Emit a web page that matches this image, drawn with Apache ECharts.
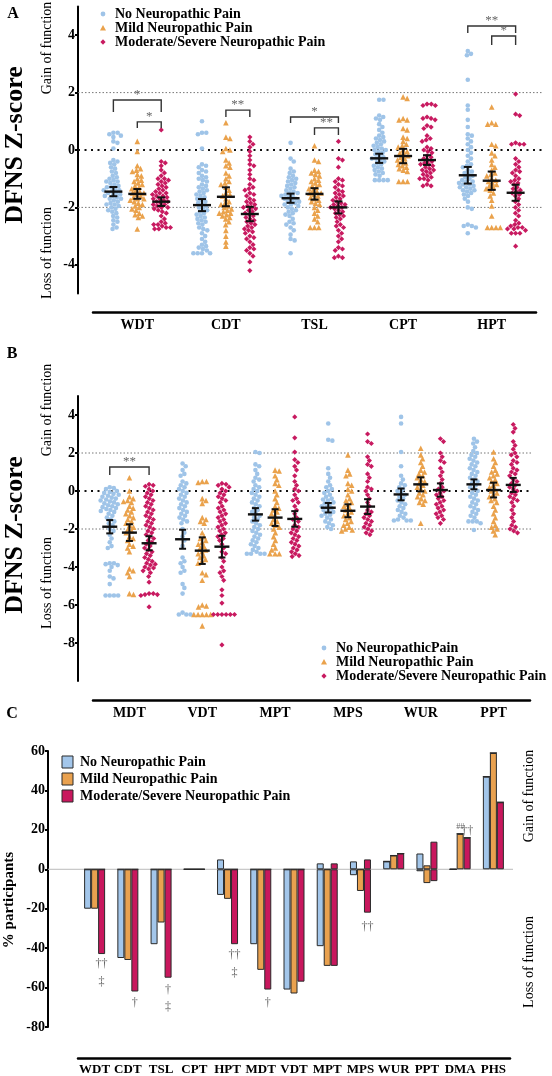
<!DOCTYPE html>
<html><head><meta charset="utf-8"><title>DFNS Z-scores</title>
<script src="https://cdn.jsdelivr.net/npm/echarts@6.0.0/dist/echarts.min.js"></script>
<style>html,body{margin:0;padding:0;background:#fff;}#chart{width:552px;height:1076px;}</style>
</head><body><div id="chart"></div>
<script>
// ---------- categories / labels ----------
const groupNames = ['No Neuropathic Pain','Mild Neuropathic Pain','Moderate/Severe Neuropathic Pain'];
const groupNamesB = ['No NeuropathicPain','Mild Neuropathic Pain','Moderate/Severe Neuropathic Pain'];
const catsA = ['WDT','CDT','TSL','CPT','HPT'];
const catsB = ['MDT','VDT','MPT','MPS','WUR','PPT'];
const catsC = ['WDT','CDT','TSL','CPT','HPT','MDT','VDT','MPT','MPS','WUR','PPT','DMA','PHS'];
const ticksA = [-4,-2,0,2,4];
const ticksB = [-8,-6,-4,-2,0,2,4];

// ---------- Panel A: individual Z-scores (per category, per group) ----------
const zA_none = [
 [0.6,0.6,0.55,0.5,0.45,0.3,0.25,0.05,-0.35,-0.4,-0.45,-0.5,-0.6,-0.65,-0.75,-0.8,-0.9,-0.95,-1.0,-1.05,-1.1,-1.1,-1.15,-1.2,-1.25,-1.3,-1.3,-1.35,-1.4,-1.4,-1.45,-1.5,-1.5,-1.55,-1.6,-1.6,-1.65,-1.7,-1.7,-1.75,-1.8,-1.85,-1.9,-1.9,-1.95,-2.0,-2.05,-2.1,-2.15,-2.2,-2.3,-2.35,-2.45,-2.5,-2.6,-2.7,-2.75],
 [1.0,0.6,0.6,0.55,0.05,-0.5,-0.55,-0.6,-0.7,-0.75,-0.8,-0.9,-0.95,-1.0,-1.05,-1.1,-1.2,-1.25,-1.3,-1.35,-1.4,-1.45,-1.5,-1.55,-1.6,-1.65,-1.7,-1.75,-1.8,-1.85,-1.9,-1.95,-2.0,-2.05,-2.1,-2.15,-2.2,-2.25,-2.3,-2.35,-2.4,-2.45,-2.5,-2.55,-2.6,-2.7,-2.75,-2.8,-2.9,-3.0,-3.1,-3.2,-3.3,-3.35,-3.4,-3.45,-3.5,-3.6,-3.6,-3.6,-3.6],
 [0.25,-0.3,-0.4,-0.65,-0.75,-0.8,-0.9,-0.95,-1.0,-1.05,-1.1,-1.15,-1.2,-1.25,-1.3,-1.35,-1.4,-1.45,-1.5,-1.5,-1.55,-1.6,-1.6,-1.65,-1.7,-1.7,-1.75,-1.8,-1.8,-1.85,-1.9,-1.9,-1.95,-2.0,-2.05,-2.1,-2.15,-2.2,-2.25,-2.3,-2.4,-2.5,-2.55,-2.6,-2.7,-2.8,-2.95,-3.1,-3.15,-3.6],
 [1.75,1.75,1.2,1.15,1.1,1.05,0.9,0.8,0.7,0.6,0.5,0.45,0.4,0.35,0.3,0.25,0.2,0.15,0.1,0.05,0.0,0.0,-0.05,-0.1,-0.15,-0.2,-0.25,-0.3,-0.3,-0.35,-0.4,-0.45,-0.5,-0.55,-0.6,-0.65,-0.7,-0.75,-0.8,-0.85,-0.9,-1.05,-1.05,-1.05,-1.05],
 [3.45,3.35,3.3,2.45,1.55,1.4,1.05,0.8,0.55,0.5,0.4,0.3,0.2,0.1,0.0,-0.1,-0.2,-0.3,-0.4,-0.5,-0.55,-0.6,-0.7,-0.75,-0.8,-0.85,-0.9,-0.95,-1.0,-1.05,-1.1,-1.1,-1.15,-1.2,-1.2,-1.25,-1.3,-1.3,-1.35,-1.4,-1.4,-1.45,-1.5,-1.55,-1.6,-1.7,-1.8,-2.0,-2.05,-2.6,-2.65,-2.65,-2.7,-2.9]
];
const zA_mild = [
 [0.3,-0.05,-0.55,-0.65,-0.7,-0.75,-0.85,-0.9,-1.0,-1.05,-1.1,-1.15,-1.2,-1.25,-1.3,-1.35,-1.4,-1.45,-1.5,-1.5,-1.55,-1.6,-1.65,-1.7,-1.7,-1.75,-1.8,-1.85,-1.9,-1.95,-2.0,-2.05,-2.1,-2.2,-2.25,-2.3,-2.35,-2.75],
 [0.95,0.45,0.4,0.05,0.0,-0.05,-0.35,-0.45,-0.55,-0.6,-0.8,-0.9,-1.0,-1.1,-1.15,-1.2,-1.3,-1.4,-1.5,-1.55,-1.6,-1.7,-1.8,-1.85,-1.9,-1.95,-2.0,-2.05,-2.1,-2.15,-2.2,-2.2,-2.25,-2.3,-2.35,-2.4,-2.5,-2.6,-2.8,-3.0,-3.2,-3.35],
 [0.15,-0.35,-0.4,-0.7,-0.75,-0.8,-0.85,-0.9,-1.0,-1.05,-1.1,-1.15,-1.2,-1.25,-1.3,-1.35,-1.4,-1.45,-1.5,-1.5,-1.55,-1.6,-1.65,-1.7,-1.75,-1.8,-1.85,-1.9,-2.0,-2.1,-2.2,-2.3,-2.4,-2.5,-2.7,-2.7,-2.7],
 [1.85,1.8,1.1,1.05,1.05,0.75,0.7,0.45,0.4,0.3,0.2,0.15,0.1,0.0,-0.05,-0.1,-0.15,-0.2,-0.25,-0.3,-0.35,-0.4,-0.45,-0.5,-0.55,-0.6,-0.65,-0.7,-0.75,-1.1,-1.1,-1.1],
 [1.5,0.95,0.9,0.9,0.2,0.15,-0.1,-0.2,-0.35,-0.5,-0.6,-0.7,-0.8,-0.85,-0.9,-1.0,-1.05,-1.1,-1.15,-1.2,-1.25,-1.3,-1.35,-1.4,-1.5,-1.6,-1.75,-1.95,-2.3,-2.7,-2.7,-2.7,-2.7]
];
const zA_mod = [
 [0.7,-0.4,-0.45,-0.55,-0.7,-0.8,-0.9,-1.0,-1.0,-1.05,-1.1,-1.15,-1.2,-1.25,-1.3,-1.35,-1.4,-1.45,-1.5,-1.5,-1.55,-1.6,-1.6,-1.65,-1.7,-1.7,-1.75,-1.8,-1.8,-1.85,-1.9,-1.9,-1.95,-2.0,-2.0,-2.05,-2.1,-2.15,-2.2,-2.3,-2.4,-2.5,-2.55,-2.6,-2.6,-2.65,-2.7,-2.7,-2.75,-2.75],
 [0.45,0.3,0.2,0.1,-0.05,-0.2,-0.35,-0.5,-0.55,-0.7,-0.85,-1.0,-1.05,-1.2,-1.3,-1.35,-1.4,-1.5,-1.55,-1.6,-1.7,-1.75,-1.8,-1.85,-1.9,-1.95,-2.0,-2.0,-2.05,-2.1,-2.15,-2.2,-2.25,-2.3,-2.35,-2.4,-2.45,-2.5,-2.55,-2.6,-2.65,-2.7,-2.75,-2.8,-2.85,-2.9,-3.0,-3.05,-3.1,-3.2,-3.3,-3.4,-3.45,-3.5,-3.6,-3.7,-3.9,-4.2],
 [0.3,-0.3,-0.35,-0.6,-1.0,-1.05,-1.1,-1.2,-1.25,-1.3,-1.4,-1.45,-1.5,-1.55,-1.6,-1.65,-1.7,-1.75,-1.8,-1.85,-1.9,-1.9,-1.95,-2.0,-2.0,-2.05,-2.1,-2.15,-2.2,-2.25,-2.3,-2.35,-2.4,-2.5,-2.6,-2.65,-2.7,-2.8,-2.9,-3.0,-3.1,-3.2,-3.4,-3.45,-3.5,-3.7,-3.75,-3.75],
 [1.6,1.6,1.55,1.55,1.15,1.1,1.1,1.05,0.85,0.8,0.75,0.5,0.4,0.35,0.3,0.1,0.05,0.0,-0.05,-0.1,-0.2,-0.25,-0.3,-0.35,-0.4,-0.45,-0.5,-0.5,-0.55,-0.6,-0.65,-0.7,-0.7,-0.75,-0.8,-0.85,-0.9,-0.95,-1.0,-1.0,-1.05,-1.2,-1.25,-1.25],
 [1.95,1.25,1.2,0.25,0.2,0.2,0.2,-0.3,-0.4,-0.5,-0.6,-0.7,-0.75,-0.8,-0.9,-1.0,-1.05,-1.1,-1.15,-1.2,-1.3,-1.35,-1.4,-1.45,-1.5,-1.55,-1.6,-1.7,-1.8,-1.9,-2.0,-2.1,-2.2,-2.3,-2.45,-2.55,-2.6,-2.65,-2.7,-2.7,-2.75,-2.75,-2.8,-2.9,-2.9,-2.9,-3.35]
];
const meanA_none = [-1.45,-1.92,-1.68,-0.29,-0.88];
const meanA_mild = [-1.53,-1.63,-1.53,-0.21,-1.07];
const meanA_mod  = [-1.80,-2.23,-2.00,-0.35,-1.49];
const semA_none = [0.16,0.21,0.16,0.16,0.29];
const semA_mild = [0.17,0.33,0.20,0.25,0.32];
const semA_mod  = [0.15,0.25,0.21,0.17,0.28];
// significance brackets: [category, fromGroup, toGroup, top, legEnd]
const sigA = [[0,0,2,1.74,1.32],[0,1,2,0.98,0.77],[1,1,2,1.39,1.15],[2,0,2,1.15,0.94],[2,1,2,0.77,0.52],[4,0,2,4.32,4.08],[4,1,2,3.97,3.66]];
const sigA_text = ['*','*','**','*','**','**','*'];

// ---------- Panel B ----------
const zB_none = [
 [0.2,0.15,0.1,0.0,-0.05,-0.1,-0.15,-0.2,-0.25,-0.3,-0.35,-0.4,-0.45,-0.5,-0.55,-0.6,-0.65,-0.7,-0.75,-0.8,-0.85,-0.9,-0.95,-1.0,-1.05,-1.1,-1.2,-1.3,-1.4,-1.5,-1.6,-1.7,-1.8,-2.0,-2.1,-2.3,-2.5,-2.7,-2.9,-3.0,-3.8,-3.8,-3.85,-3.9,-4.0,-4.2,-4.5,-4.6,-4.9,-5.5,-5.5,-5.5,-5.5],
 [1.45,1.3,1.1,0.9,0.8,0.5,0.4,0.3,0.2,0.1,0.0,-0.1,-0.2,-0.3,-0.4,-0.5,-0.6,-0.7,-0.8,-0.9,-1.0,-1.1,-1.2,-1.3,-1.4,-1.5,-1.6,-1.7,-2.0,-2.2,-2.4,-2.6,-2.9,-3.5,-3.7,-3.8,-4.0,-4.2,-4.3,-4.9,-5.1,-5.4,-6.4,-6.5,-6.5,-6.5],
 [2.05,2.0,1.4,1.3,1.1,0.9,0.7,0.6,0.5,0.3,0.2,0.1,0.0,-0.1,-0.2,-0.3,-0.4,-0.5,-0.6,-0.7,-0.8,-0.9,-1.0,-1.1,-1.2,-1.3,-1.4,-1.5,-1.6,-1.7,-1.8,-1.9,-2.0,-2.1,-2.2,-2.3,-2.4,-2.5,-2.6,-2.7,-2.8,-2.9,-3.0,-3.1,-3.2,-3.3,-3.3,-3.3,-3.3],
 [3.55,2.7,2.65,1.2,0.9,0.7,0.5,0.3,0.2,0.1,0.0,-0.1,-0.2,-0.3,-0.4,-0.45,-0.5,-0.6,-0.65,-0.7,-0.8,-0.85,-0.9,-1.0,-1.05,-1.1,-1.2,-1.25,-1.3,-1.4,-1.5,-1.6,-1.7,-1.8,-1.9,-2.0],
 [3.9,3.55,2.05,1.3,0.8,0.6,0.4,0.3,0.2,0.1,0.0,-0.1,-0.2,-0.3,-0.4,-0.5,-0.6,-0.7,-0.8,-0.9,-1.0,-1.1,-1.2,-1.3,-1.4,-1.5,-1.55,-1.55,-1.55],
 [2.75,2.6,2.5,2.3,2.1,2.0,1.9,1.8,1.7,1.6,1.5,1.4,1.3,1.2,1.1,1.0,0.9,0.8,0.7,0.6,0.5,0.4,0.3,0.2,0.1,0.0,-0.1,-0.2,-0.3,-0.4,-0.5,-0.6,-0.7,-0.8,-0.9,-1.0,-1.1,-1.2,-1.3,-1.4,-1.6,-1.6,-1.6,-1.7,-2.05]
];
const zB_mild = [
 [0.7,0.0,-0.3,-0.4,-0.5,-0.55,-0.6,-0.8,-0.9,-1.0,-1.1,-1.2,-1.3,-1.4,-1.5,-1.6,-1.7,-1.8,-1.9,-2.0,-2.1,-2.2,-2.4,-2.5,-2.6,-2.8,-2.9,-3.0,-3.2,-4.1,-4.2,-4.3,-4.5,-5.4,-5.45],
 [0.5,0.5,0.45,-0.4,-0.5,-0.65,-1.4,-1.5,-1.6,-1.7,-2.2,-2.4,-2.5,-2.6,-2.7,-2.8,-2.9,-3.0,-3.1,-3.2,-3.3,-3.4,-3.5,-3.6,-3.7,-3.8,-4.3,-4.4,-4.7,-6.0,-6.05,-6.1,-6.5,-6.5,-6.5,-6.5,-6.5,-7.1],
 [1.1,1.05,0.8,0.6,0.4,0.3,0.0,-0.2,-0.4,-0.6,-0.8,-0.9,-1.0,-1.1,-1.2,-1.3,-1.5,-1.6,-1.7,-1.8,-1.9,-2.0,-2.2,-2.4,-2.6,-2.8,-3.0,-3.1,-3.3,-3.3,-3.3],
 [1.9,1.1,0.9,0.8,0.4,0.3,0.1,0.0,-0.2,-0.4,-0.5,-0.6,-0.7,-0.8,-0.9,-1.0,-1.1,-1.2,-1.3,-1.4,-1.5,-1.6,-1.7,-1.8,-1.9,-2.0,-2.05,-2.1],
 [2.25,1.9,1.7,1.5,1.3,1.1,1.0,0.9,0.8,0.7,0.6,0.5,0.4,0.3,0.2,0.1,0.0,-0.1,-0.2,-0.3,-0.4,-0.5,-0.6,-0.7,-1.7],
 [2.05,1.7,1.5,1.3,1.1,1.0,0.9,0.8,0.7,0.6,0.5,0.4,0.3,0.2,0.1,0.0,-0.1,-0.2,-0.3,-0.4,-0.5,-0.6,-0.8,-1.0,-1.2,-1.4,-1.6,-1.8,-1.9,-2.0,-2.1,-2.3]
];
const zB_mod = [
 [0.35,0.3,0.25,0.1,0.0,-0.1,-0.2,-0.3,-0.4,-0.5,-0.6,-0.7,-0.8,-0.9,-1.0,-1.1,-1.2,-1.3,-1.4,-1.5,-1.6,-1.7,-1.8,-1.9,-2.0,-2.1,-2.2,-2.3,-2.4,-2.5,-2.6,-2.7,-2.8,-2.9,-3.0,-3.1,-3.2,-3.3,-3.4,-3.5,-3.6,-3.7,-3.8,-3.85,-3.9,-4.0,-4.05,-4.1,-4.2,-4.3,-4.5,-4.8,-5.4,-5.4,-5.45,-5.45,-5.5,-6.1],
 [0.4,0.35,0.3,0.2,0.1,0.0,-0.1,-0.2,-0.3,-0.4,-0.5,-0.6,-0.8,-0.9,-1.0,-1.1,-1.2,-1.3,-1.4,-1.5,-1.6,-1.7,-1.8,-1.9,-2.0,-2.1,-2.2,-2.3,-2.4,-2.5,-2.6,-2.8,-3.0,-3.2,-3.3,-3.5,-3.7,-4.0,-4.2,-4.3,-4.5,-4.7,-5.2,-5.5,-5.9,-6.5,-6.5,-6.5,-6.5,-6.5,-6.5,-8.1],
 [3.9,2.8,2.05,1.65,1.5,1.3,1.1,0.8,0.5,0.3,0.1,0.0,-0.2,-0.4,-0.5,-0.6,-0.8,-1.0,-1.2,-1.4,-1.5,-1.6,-1.8,-1.9,-2.0,-2.1,-2.2,-2.3,-2.4,-2.5,-2.6,-2.7,-2.8,-2.9,-3.0,-3.1,-3.2,-3.3,-3.4,-3.45],
 [3.0,2.6,2.5,1.8,1.6,1.4,1.3,0.9,0.7,0.5,0.2,0.1,0.0,-0.2,-0.4,-0.6,-0.8,-1.0,-1.1,-1.2,-1.3,-1.4,-1.5,-1.6,-1.7,-1.8,-1.9,-2.0,-2.1,-2.2,-2.3],
 [2.75,2.6,2.0,1.8,1.6,1.5,1.2,1.0,0.8,0.6,0.4,0.2,0.1,0.0,-0.1,-0.2,-0.3,-0.4,-0.5,-0.6,-0.7,-0.8,-0.9,-1.0,-1.1,-1.2,-1.3,-1.4,-1.5,-1.7],
 [3.5,3.3,3.1,2.6,2.4,2.2,2.0,1.9,1.8,1.6,1.5,1.4,1.2,1.1,1.0,0.9,0.8,0.6,0.5,0.4,0.3,0.2,0.1,0.0,-0.1,-0.2,-0.3,-0.4,-0.5,-0.6,-0.8,-1.0,-1.2,-1.4,-1.6,-1.8,-1.9,-2.0,-2.1,-2.2]
];
const meanB_none = [-1.88,-2.54,-1.23,-0.88,-0.18,0.35];
const meanB_mild = [-2.19,-3.14,-1.40,-1.04,0.35,0.05];
const meanB_mod  = [-2.75,-2.93,-1.47,-0.82,0.05,0.32];
const semB_none = [0.35,0.50,0.33,0.25,0.31,0.26];
const semB_mild = [0.44,0.70,0.44,0.34,0.37,0.39];
const semB_mod  = [0.37,0.57,0.41,0.39,0.35,0.37];
const sigB = [[0,0,2,1.26,0.84]];
const sigB_text = ['**'];

// ---------- Panel C: % participants with gain (+) / loss (-) ----------
const gainC_none = [0,0,0,0,5,0,0,3,4,4,8,0,47];
const lossC_none = [-20,-45,-38,0,-13,-38,-61,-39,-3,0,-1,0,0];
const gainC_mild = [0,0,0,0,0,0,0,0,0,7,2,18,59];
const lossC_mild = [-20,-46,-27,0,-15,-51,-63,-49,-11,0,-7,0,0];
const gainC_mod  = [0,0,0,0,0,0,0,3,5,8,14,16,34];
const lossC_mod  = [-43,-62,-55,0,-38,-61,-57,-49,-22,0,-6,0,0];
// annotations: [categoryIndex, value, group]
const annC = [[0,-48,2],[0,-57,2],[1,-68,2],[2,-61,2],[2,-70,2],[4,-43.5,2],[4,-52.5,2],[5,-67.5,2],[8,-29,2],[11,21.5,1],[11,19.5,2]];
const annC_text = ['††','‡','†','†','‡','††','‡','†','††','##','††'];

// ---------- styling ----------
const FONT = '"Liberation Serif","Times New Roman",Times,serif';
const f = (s, b) => (b ? 'bold ' : '') + s + 'px ' + FONT;
const COL = ['#9fc4e8','#eaa24c','#c81a60'];
const BARCOL = ['#a3c6ea','#e9a14f','#c8175d'];
const SYM = ['circle','triangle','diamond'];
const SYMSIZE = [4.6,5.6,5.2];
const GOFF = 0.27;

const chart = echarts.init(document.getElementById('chart'), null, {renderer:'canvas', width:552, height:1076});

function errRender(mh, ch) {
  return function (params, api) {
    const x = api.value(0), m = api.value(1), s = api.value(2);
    const c = api.coord([x, m]), hi = api.coord([x, m + s]), lo = api.coord([x, m - s]);
    const st = {stroke:'#111', lineWidth:2};
    return {type:'group', children:[
      {type:'line', shape:{x1:c[0]-mh, y1:c[1], x2:c[0]+mh, y2:c[1]}, style:{stroke:'#111', lineWidth:2.4}},
      {type:'line', shape:{x1:c[0], y1:hi[1], x2:c[0], y2:lo[1]}, style:st},
      {type:'line', shape:{x1:c[0]-ch, y1:hi[1], x2:c[0]+ch, y2:hi[1]}, style:st},
      {type:'line', shape:{x1:c[0]-ch, y1:lo[1], x2:c[0]+ch, y2:lo[1]}, style:st}
    ]};
  };
}
function bracketRender(texts) {
  return function (params, api) {
    const a = api.coord([api.value(0), api.value(2)]);
    const b = api.coord([api.value(1), api.value(2)]);
    const l = api.coord([api.value(0), api.value(3)]);
    return {type:'group', children:[
      {type:'polyline', shape:{points:[[a[0], l[1]],[a[0], a[1]],[b[0], b[1]],[b[0], l[1]]]}, style:{stroke:'#333', lineWidth:1.4, fill:null}},
      {type:'text', x:(a[0]+b[0])/2, y:a[1]+1, style:{text:texts[params.dataIndex], fill:'#666', font:f(13,false), align:'center', verticalAlign:'bottom'}}
    ]};
  };
}
function guideRender(extL, extR) {
  return function (params, api) {
    const v = api.value(1);
    const y = api.coord([0, v])[1];
    const cs = params.coordSys;
    const isZero = v === 0;
    return {type:'line', shape:{x1:cs.x-extL, y1:y, x2:cs.x+cs.width+extR, y2:y},
      style: isZero ? {stroke:'#111', lineWidth:2, lineDash:[2,4.5]} : {stroke:'#777', lineWidth:1, lineDash:[1.5,2]}};
  };
}
function errData(means, sems, g) {
  return means.map((m, i) => [i + 0.5 + (g - 1) * GOFF, m, sems[i]]);
}
function sigData(sig) {
  return sig.map(s => [s[0] + 0.5 + (s[1] - 1) * GOFF, s[0] + 0.5 + (s[2] - 1) * GOFF, s[3], s[4]]);
}

const zA = [zA_none, zA_mild, zA_mod];
const zB = [zB_none, zB_mild, zB_mod];
const meanA = [meanA_none, meanA_mild, meanA_mod], semA = [semA_none, semA_mild, semA_mod];
const meanB = [meanB_none, meanB_mild, meanB_mod], semB = [semB_none, semB_mild, semB_mod];

const axisLbl = (size) => ({fontFamily:FONT, fontWeight:'bold', fontSize:size, color:'#000'});
const series = [];
// Panel A scatter
for (let g = 0; g < 3; g++) series.push({id:'sa'+g, name:groupNames[g], type:'scatter', xAxisIndex:1, yAxisIndex:0,
  symbol:SYM[g], symbolSize:SYMSIZE[g], itemStyle:{color:COL[g], opacity:1}, data:[], z:3, silent:true});
// Panel B scatter
for (let g = 0; g < 3; g++) series.push({id:'sb'+g, name:groupNamesB[g], type:'scatter', xAxisIndex:3, yAxisIndex:1,
  symbol:SYM[g], symbolSize:SYMSIZE[g], itemStyle:{color:COL[g], opacity:1}, data:[], z:3, silent:true});
// guides
series.push({type:'custom', xAxisIndex:1, yAxisIndex:0, clip:false, z:1, silent:true, renderItem:guideRender(15, 7), data:[[0,2],[0,0],[0,-2]]});
series.push({type:'custom', xAxisIndex:3, yAxisIndex:1, clip:false, z:1, silent:true, renderItem:guideRender(15, 3), data:[[0,2],[0,0],[0,-2]]});
// error bars
for (let g = 0; g < 3; g++) {
  series.push({type:'custom', xAxisIndex:1, yAxisIndex:0, clip:false, z:5, silent:true, renderItem:errRender(9, 4), data:errData(meanA[g], semA[g], g)});
  series.push({type:'custom', xAxisIndex:3, yAxisIndex:1, clip:false, z:5, silent:true, renderItem:errRender(7.5, 3.5), data:errData(meanB[g], semB[g], g)});
}
// brackets
series.push({type:'custom', xAxisIndex:1, yAxisIndex:0, clip:false, z:5, silent:true, renderItem:bracketRender(sigA_text), data:sigData(sigA)});
series.push({type:'custom', xAxisIndex:3, yAxisIndex:1, clip:false, z:5, silent:true, renderItem:bracketRender(sigB_text), data:sigData(sigB)});
// Panel C bars
const gainC = [gainC_none, gainC_mild, gainC_mod], lossC = [lossC_none, lossC_mild, lossC_mod];
for (let g = 0; g < 3; g++) {
  const common = {type:'bar', xAxisIndex:4, yAxisIndex:2, stack:'g'+g, barWidth:7, barGap:'0%', silent:true, z:3,
    itemStyle:{color:BARCOL[g], borderColor:'#2a2a2a', borderWidth:1}};
  series.push(Object.assign({name:groupNames[g]+' (gain)', data:gainC[g]}, common));
  series.push(Object.assign({name:groupNames[g]+' (loss)', data:lossC[g]}, common));
}
series.push({type:'custom', xAxisIndex:4, yAxisIndex:2, clip:false, z:1, silent:true, renderItem:function (params, api) {
  const y = api.coord([0, 0])[1]; const cs = params.coordSys;
  return {type:'line', shape:{x1:cs.x-30, y1:y, x2:cs.x+cs.width+3, y2:y}, style:{stroke:'#bbb', lineWidth:1}};
}, data:[[0,0]]});
series.push({type:'custom', xAxisIndex:4, yAxisIndex:2, clip:false, z:6, silent:true, renderItem:function (params, api) {
  const i = params.dataIndex; const p = api.coord([api.value(0), api.value(1)]);
  const g = annC[i][2]; const t = annC_text[i];
  return {type:'text', x:p[0] + (g - 1) * 7, y:p[1], style:{text:t, fill:'#666', font:f(t === '##' ? 8 : 12, false), align:'center', verticalAlign:'middle'}};
}, data:annC.map(a => [a[0], a[1]])});

// graphics: panel letters, axis titles, legends
const g = [];
const txt = (x, y, text, font, rot, align) => ({type:'text', x, y, rotation:rot || 0, silent:true,
  style:{text, font, fill:'#000', align:align || 'center', verticalAlign:'middle'}});
g.push(txt(13, 14, 'A', f(16,true)), txt(12, 354, 'B', f(16,true)), txt(12, 714, 'C', f(16,true)));
g.push(txt(15, 145, 'DFNS Z-score', f(26,true), Math.PI/2), txt(15, 535, 'DFNS Z-score', f(26,true), Math.PI/2));
g.push(txt(9, 900, '% participants', f(15,true), Math.PI/2));
g.push(txt(47, 48, 'Gain of function', f(14,false), Math.PI/2), txt(47, 253, 'Loss of function', f(14,false), Math.PI/2));
g.push(txt(47, 410, 'Gain of function', f(14,false), Math.PI/2), txt(47, 583, 'Loss of function', f(14,false), Math.PI/2));
g.push(txt(529, 796, 'Gain of function', f(14,false), Math.PI/2), txt(529, 962, 'Loss of function', f(14,false), Math.PI/2));
function marker(k, x, y) {
  if (k === 0) return {type:'circle', shape:{cx:x, cy:y, r:2.4}, style:{fill:COL[0]}, silent:true};
  if (k === 1) return {type:'polygon', shape:{points:[[x, y-3],[x+3, y+2.4],[x-3, y+2.4]]}, style:{fill:COL[1]}, silent:true};
  return {type:'polygon', shape:{points:[[x, y-2.8],[x+2.6, y],[x, y+2.8],[x-2.6, y]]}, style:{fill:COL[2]}, silent:true};
}
const legA = [14, 28, 42];
for (let k = 0; k < 3; k++) { g.push(marker(k, 103, legA[k])); g.push(txt(115, legA[k], groupNames[k], f(14,true), 0, 'left')); }
const legB = [648, 662, 676];
for (let k = 0; k < 3; k++) { g.push(marker(k, 324, legB[k])); g.push(txt(336, legB[k], groupNamesB[k], f(14,true), 0, 'left')); }
const legC = [762, 779, 796];
for (let k = 0; k < 3; k++) {
  g.push({type:'rect', shape:{x:62, y:legC[k]-6, width:11, height:12}, style:{fill:BARCOL[k], stroke:'#2a2a2a', lineWidth:1}, silent:true});
  g.push(txt(80, legC[k], groupNames[k], f(14,true), 0, 'left'));
}

const option = {
  animation:false,
  backgroundColor:'#fff',
  grid:[
    {left:93, top:6.5, width:443, height:287},
    {left:93, top:396, width:437, height:285},
    {left:78, top:751, width:432, height:277}
  ],
  xAxis:[
    {gridIndex:0, type:'category', data:catsA, position:'bottom', offset:18.5,
     axisLine:{onZero:false, lineStyle:{color:'#000', width:2.5}}, axisTick:{alignWithLabel:true, length:4, lineStyle:{color:'#000', width:2}},
     axisLabel:Object.assign({margin:6}, axisLbl(14)), splitLine:{show:false}},
    {gridIndex:0, type:'value', min:0, max:5, show:false, splitLine:{show:false}},
    {gridIndex:1, type:'category', data:catsB, position:'bottom', offset:19,
     axisLine:{onZero:false, lineStyle:{color:'#000', width:2.5}}, axisTick:{alignWithLabel:true, length:4, lineStyle:{color:'#000', width:2}},
     axisLabel:Object.assign({margin:6}, axisLbl(14)), splitLine:{show:false}},
    {gridIndex:1, type:'value', min:0, max:6, show:false, splitLine:{show:false}},
    {gridIndex:2, type:'category', data:catsC, position:'bottom', offset:31,
     axisLine:{onZero:false, lineStyle:{color:'#000', width:2.5}}, axisTick:{alignWithLabel:true, length:4, lineStyle:{color:'#000', width:2}},
     axisLabel:Object.assign({margin:5, interval:0}, axisLbl(13)), splitLine:{show:false}}
  ],
  yAxis:[
    {gridIndex:0, type:'value', min:-5, max:5, offset:15,
     axisLine:{show:true, onZero:false, lineStyle:{color:'#000', width:2}},
     axisTick:{show:true, length:3, customValues:ticksA, lineStyle:{color:'#000', width:2}},
     axisLabel:Object.assign({margin:3, customValues:ticksA}, axisLbl(14)), splitLine:{show:false}},
    {gridIndex:1, type:'value', min:-10, max:5, offset:15,
     axisLine:{show:true, onZero:false, lineStyle:{color:'#000', width:2}},
     axisTick:{show:true, length:3, customValues:ticksB, lineStyle:{color:'#000', width:2}},
     axisLabel:Object.assign({margin:3, customValues:ticksB}, axisLbl(14)), splitLine:{show:false}},
    {gridIndex:2, type:'value', min:-80, max:60, interval:20, offset:30,
     axisLine:{show:true, onZero:false, lineStyle:{color:'#000', width:2}},
     axisTick:{show:true, length:3, lineStyle:{color:'#000', width:2}},
     axisLabel:Object.assign({margin:3}, axisLbl(14)), splitLine:{show:false}}
  ],
  graphic:{elements:g},
  series
};
chart.setOption(option);

// beeswarm layout (in pixels) computed from the library's own scales
function swarmOffsets(ysPx, d) {
  const order = ysPx.map((y, i) => i).sort((a, b) => ysPx[a] - ysPx[b]);
  const placed = [], out = new Array(ysPx.length);
  order.forEach(i => {
    const y = ysPx[i];
    const near = placed.filter(p => Math.abs(p.y - y) < d);
    const cands = [0];
    near.forEach(p => { const dx = Math.sqrt(d*d - (p.y-y)*(p.y-y)); cands.push(p.x + dx, p.x - dx); });
    cands.sort((a, b) => Math.abs(a) - Math.abs(b));
    let x = 0;
    for (const c of cands) { if (near.every(p => (p.x-c)*(p.x-c) + (p.y-y)*(p.y-y) >= d*d - 1e-6)) { x = c; break; } }
    placed.push({x, y}); out[i] = x;
  });
  return out;
}
function buildSwarm(seriesIdx, arrays, g, d) {
  const p0 = chart.convertToPixel({seriesIndex:seriesIdx}, [0, 0]);
  const p1 = chart.convertToPixel({seriesIndex:seriesIdx}, [1, 1]);
  const sx = p1[0] - p0[0], sy = p1[1] - p0[1];
  const data = [];
  arrays.forEach((vals, ci) => {
    const xs = swarmOffsets(vals.map(v => v * sy), d);
    vals.forEach((v, k) => data.push([ci + 0.5 + (g - 1) * GOFF + xs[k] / sx, v]));
  });
  return data;
}
const upd = [];
for (let k = 0; k < 3; k++) upd.push({id:'sa'+k, data:buildSwarm(k, zA[k], k, 4.3)});
for (let k = 0; k < 3; k++) upd.push({id:'sb'+k, data:buildSwarm(3 + k, zB[k], k, 4.2)});
chart.setOption({series:upd});
</script></body></html>
